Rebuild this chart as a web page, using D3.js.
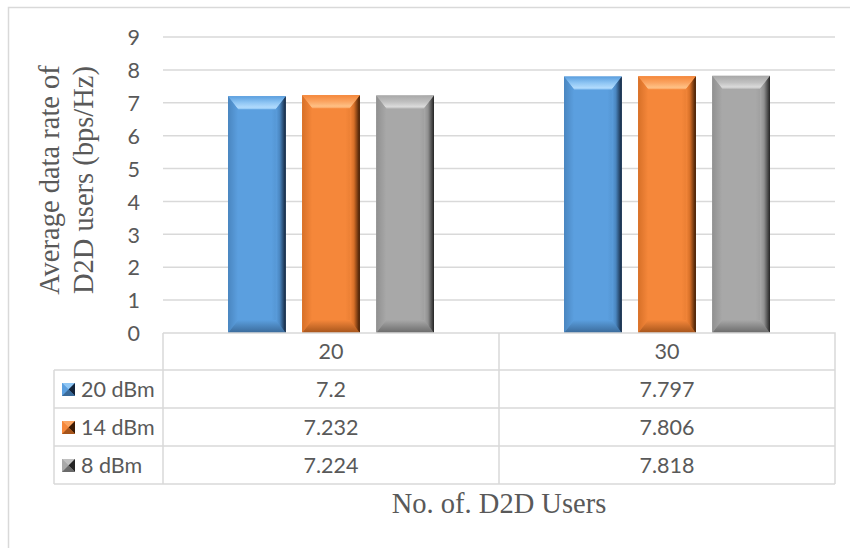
<!DOCTYPE html>
<html>
<head>
<meta charset="utf-8">
<script src="https://cdn.jsdelivr.net/npm/d3@7"></script>
<style>
  html, body { margin: 0; padding: 0; background: #fff; }
  svg { display: block; }
</style>
</head>
<body>
<svg id="chart" width="850" height="548"></svg>
<script>
// ---- data ----
const categories = ["20", "30"];
const seriesNames = ["20 dBm", "14 dBm", "8 dBm"];
const values20dBm = [7.2, 7.797];
const values14dBm = [7.232, 7.806];
const values8dBm = [7.224, 7.818];
const yTicks = [0, 1, 2, 3, 4, 5, 6, 7, 8, 9];
const yTitleLines = ["Average data rate of", "D2D users (bps/Hz)"];
const xTitle = "No. of. D2D Users";

const seriesValues = [values20dBm, values14dBm, values8dBm];

// bevel palettes: light (top face), base, mid (left face), dark (right face), bottom
const palettes = [
  { light: "#8fc6f4", hi: "#b0dafc", base: "#5b9fdf", mid: "#4a86c0", dark: "#13233a", bottom: "#3a6a99" },
  { light: "#fba562", hi: "#fec085", base: "#f5873a", mid: "#d77028", dark: "#3a1a04", bottom: "#a5541b" },
  { light: "#c0c0c0", hi: "#dadada", base: "#a8a8a8", mid: "#909090", dark: "#232323", bottom: "#6a6a6a" }
];

const svg = d3.select("#chart");
const W = 850, H = 548;
const plotLeft = 163, plotRight = 835, plotTop = 37, plotBottom = 333;
const tableLeft = 54;
const headerH = 37, rowH = 38;
const gridColor = "#d9d9d9";
const textColor = "#595959";
const sansFont = "Lato, 'Open Sans', sans-serif";
const serifFont = "'Liberation Serif', 'DejaVu Serif', serif";
const sansSize = 21.5;

// outer chart-area frame
svg.append("rect").attr("width", W).attr("height", H).attr("fill", "#fff");
svg.append("path")
  .attr("d", `M8.5,${H + 2} L8.5,7.5 L${W + 2},7.5`)
  .attr("fill", "none").attr("stroke", gridColor).attr("stroke-width", 1.5);

// scales
const x = d3.scaleBand().domain(categories).range([plotLeft, plotRight]).paddingInner(0).paddingOuter(0);
const xs = d3.scaleBand().domain(seriesNames).range([65, x.bandwidth() - 65]).paddingInner(0.22).paddingOuter(0);
const y = d3.scaleLinear().domain([0, 9]).range([plotBottom, plotTop]);

// gridlines
svg.append("g").selectAll("line").data(yTicks.filter(d => d > 0)).join("line")
  .attr("x1", plotLeft).attr("x2", plotRight)
  .attr("y1", d => y(d)).attr("y2", d => y(d))
  .attr("stroke", gridColor).attr("stroke-width", 1.5);

// y axis tick labels
const yAxis = d3.axisLeft(y).tickValues(yTicks).tickSize(0).tickPadding(0).tickFormat(d3.format("d"));
const yAxisG = svg.append("g").attr("transform", `translate(140,0)`).call(yAxis);
yAxisG.select(".domain").remove();
yAxisG.selectAll("text")
  .attr("font-family", sansFont).attr("font-size", sansSize).attr("fill", textColor)
  .attr("dy", "0.36em");

// gradients for bevelled bars
const defs = svg.append("defs");
palettes.forEach((p, i) => {
  const g1 = defs.append("linearGradient").attr("id", `right${i}`).attr("x1", 0).attr("x2", 1).attr("y1", 0).attr("y2", 0);
  g1.append("stop").attr("offset", "0%").attr("stop-color", p.base);
  g1.append("stop").attr("offset", "40%").attr("stop-color", p.mid);
  g1.append("stop").attr("offset", "100%").attr("stop-color", p.dark);
  const g2 = defs.append("linearGradient").attr("id", `left${i}`).attr("x1", 0).attr("x2", 1).attr("y1", 0).attr("y2", 0);
  g2.append("stop").attr("offset", "0%").attr("stop-color", p.mid);
  g2.append("stop").attr("offset", "100%").attr("stop-color", p.base);
  const g3 = defs.append("linearGradient").attr("id", `top${i}`).attr("x1", 0).attr("x2", 0).attr("y1", 0).attr("y2", 1);
  g3.append("stop").attr("offset", "0%").attr("stop-color", p.base);
  g3.append("stop").attr("offset", "50%").attr("stop-color", p.light);
  g3.append("stop").attr("offset", "85%").attr("stop-color", p.hi);
  g3.append("stop").attr("offset", "100%").attr("stop-color", p.light);
  const g4 = defs.append("linearGradient").attr("id", `bottom${i}`).attr("x1", 0).attr("x2", 0).attr("y1", 0).attr("y2", 1);
  g4.append("stop").attr("offset", "0%").attr("stop-color", p.base);
  g4.append("stop").attr("offset", "100%").attr("stop-color", p.bottom);
  const g5 = defs.append("linearGradient").attr("id", `face${i}`).attr("x1", 0).attr("x2", 1).attr("y1", 0).attr("y2", 0);
  g5.append("stop").attr("offset", "0%").attr("stop-color", p.base);
  g5.append("stop").attr("offset", "75%").attr("stop-color", p.base);
  g5.append("stop").attr("offset", "100%").attr("stop-color", p.mid);
});

// bars
const barData = [];
categories.forEach((c, ci) => {
  seriesNames.forEach((s, si) => {
    barData.push({ cat: c, series: s, si, value: seriesValues[si][ci] });
  });
});

const bx = 10, by = 13;
const bars = svg.append("g").selectAll("g").data(barData).join("g")
  .attr("transform", d => `translate(${x(d.cat) + xs(d.series)},${y(d.value)})`);

bars.each(function (d) {
  const g = d3.select(this);
  const w = xs.bandwidth();
  const h = y(0) - y(d.value);
  const i = d.si;
  g.append("rect").attr("width", w).attr("height", h).attr("fill", `url(#face${i})`);
  g.append("path").attr("d", `M0,0 L${w},0 L${w - bx},${by} L${bx},${by} Z`).attr("fill", `url(#top${i})`);
  g.append("path").attr("d", `M0,0 L${bx},${by} L${bx},${h - by} L0,${h} Z`).attr("fill", `url(#left${i})`);
  g.append("path").attr("d", `M0,${h} L${bx},${h - by} L${w - bx},${h - by} L${w},${h} Z`).attr("fill", `url(#bottom${i})`);
  g.append("path").attr("d", `M${w},0 L${w},${h} L${w - bx},${h - by} L${w - bx},${by} Z`).attr("fill", `url(#right${i})`);
});

// data table
const tableG = svg.append("g");
const rowsTop = plotBottom + headerH;
const tableBottom = rowsTop + rowH * seriesNames.length;
const lineAttrs = sel => sel.attr("stroke", gridColor).attr("stroke-width", 1.5).attr("fill", "none");

// header row frame
tableG.append("path")
  .attr("d", `M${plotLeft},${plotBottom} L${plotRight},${plotBottom} L${plotRight},${tableBottom}`)
  .call(lineAttrs);
tableG.append("line").attr("x1", plotLeft).attr("x2", plotLeft).attr("y1", plotBottom).attr("y2", tableBottom).call(lineAttrs);
// category dividers
categories.slice(1).forEach(c => {
  tableG.append("line").attr("x1", x(c)).attr("x2", x(c)).attr("y1", plotBottom).attr("y2", tableBottom).call(lineAttrs);
});
// row lines
d3.range(seriesNames.length + 1).forEach(r => {
  const yy = rowsTop + r * rowH;
  tableG.append("line").attr("x1", tableLeft).attr("x2", plotRight).attr("y1", yy).attr("y2", yy).call(lineAttrs);
});
tableG.append("line").attr("x1", tableLeft).attr("x2", tableLeft).attr("y1", rowsTop).attr("y2", tableBottom).call(lineAttrs);

// category labels
tableG.selectAll("text.cat").data(categories).join("text").attr("class", "cat")
  .attr("x", d => x(d) + x.bandwidth() / 2).attr("y", plotBottom + headerH / 2)
  .attr("dy", "0.36em").attr("text-anchor", "middle")
  .attr("font-family", sansFont).attr("font-size", sansSize).attr("fill", textColor)
  .text(d => d);

// value cells
seriesNames.forEach((s, si) => {
  const cy = rowsTop + si * rowH + rowH / 2;
  tableG.append("g").selectAll("text").data(categories).join("text")
    .attr("x", d => x(d) + x.bandwidth() / 2).attr("y", cy)
    .attr("dy", "0.36em").attr("text-anchor", "middle")
    .attr("font-family", sansFont).attr("font-size", sansSize).attr("fill", textColor)
    .text((d, ci) => String(seriesValues[si][ci]));

  // legend key: bevelled square
  const p = palettes[si];
  const kx = 62, ky = cy - 6, k = 13;
  const kg = tableG.append("g").attr("transform", `translate(${kx},${ky})`);
  kg.append("rect").attr("width", k).attr("height", k).attr("fill", p.base);
  kg.append("path").attr("d", `M0,0 L${k},0 L${k / 2},${k / 2} Z`).attr("fill", p.light);
  kg.append("path").attr("d", `M0,0 L${k / 2},${k / 2} L0,${k} Z`).attr("fill", p.base);
  kg.append("path").attr("d", `M${k},0 L${k},${k} L${k / 2},${k / 2} Z`).attr("fill", p.dark);
  kg.append("path").attr("d", `M0,${k} L${k / 2},${k / 2} L${k},${k} Z`).attr("fill", p.bottom);

  tableG.append("text")
    .attr("x", 81).attr("y", cy).attr("dy", "0.36em")
    .attr("font-family", sansFont).attr("font-size", sansSize).attr("fill", textColor)
    .text(s);
});

// axis titles
const yTitle = svg.append("text")
  .attr("transform", `translate(0,180) rotate(-90)`)
  .attr("text-anchor", "middle")
  .attr("font-family", serifFont).attr("font-size", 28.5).attr("fill", textColor);
yTitle.selectAll("tspan").data(yTitleLines).join("tspan")
  .attr("x", 0).attr("y", (d, i) => 59 + i * 34)
  .text(d => d);

svg.append("text")
  .attr("x", (plotLeft + plotRight) / 2).attr("y", 513)
  .attr("text-anchor", "middle")
  .attr("font-family", serifFont).attr("font-size", 28.5).attr("fill", textColor)
  .text(xTitle);
</script>
</body>
</html>
